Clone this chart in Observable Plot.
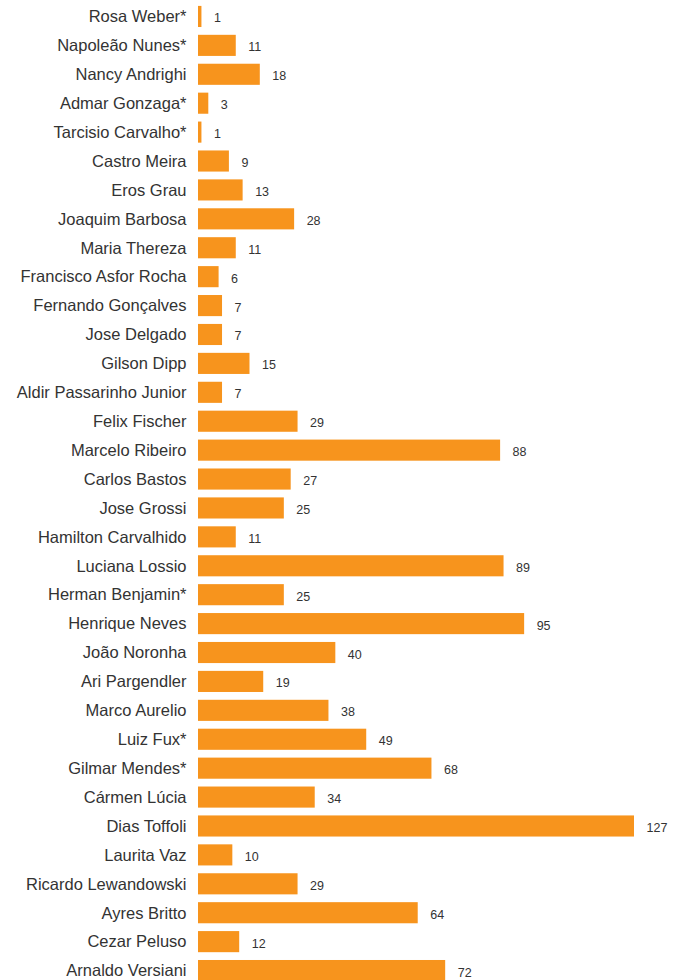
<!DOCTYPE html>
<html>
<head>
<meta charset="utf-8">
<script src="https://cdn.jsdelivr.net/npm/d3@7"></script>
<script src="https://cdn.jsdelivr.net/npm/@observablehq/plot@0.6"></script>
<style>
  html, body { margin: 0; padding: 0; background: #fff; }
</style>
</head>
<body>
<div id="chart"></div>
<script>
const names = [
  "Rosa Weber*", "Napoleão Nunes*", "Nancy Andrighi", "Admar Gonzaga*", "Tarcisio Carvalho*",
  "Castro Meira", "Eros Grau", "Joaquim Barbosa", "Maria Thereza", "Francisco Asfor Rocha",
  "Fernando Gonçalves", "Jose Delgado", "Gilson Dipp", "Aldir Passarinho Junior", "Felix Fischer",
  "Marcelo Ribeiro", "Carlos Bastos", "Jose Grossi", "Hamilton Carvalhido", "Luciana Lossio",
  "Herman Benjamin*", "Henrique Neves", "João Noronha", "Ari Pargendler", "Marco Aurelio",
  "Luiz Fux*", "Gilmar Mendes*", "Cármen Lúcia", "Dias Toffoli", "Laurita Vaz",
  "Ricardo Lewandowski", "Ayres Britto", "Cezar Peluso", "Arnaldo Versiani"
];
const values = [
  1, 11, 18, 3, 1,
  9, 13, 28, 11, 6,
  7, 7, 15, 7, 29,
  88, 27, 25, 11, 89,
  25, 95, 40, 19, 38,
  49, 68, 34, 127, 10,
  29, 64, 12, 72
];

const data = names.map((name, i) => ({name, value: values[i]}));

const chart = Plot.plot({
  width: 673,
  height: 985,
  marginLeft: 198,
  marginRight: 39,
  marginTop: 2,
  marginBottom: 0,
  style: {fontFamily: "'Liberation Sans', Arial, sans-serif", fontSize: "16px", color: "#333", background: "#fff"},
  x: {domain: [0, 127], axis: null},
  y: {domain: names, paddingInner: 0.27, paddingOuter: 0.135, label: null, axis: null},
  marks: [
    Plot.axisY({tickSize: 0, tickPadding: 12, fontSize: 16.5, fontFamily: "'Liberation Sans', Arial, sans-serif", fill: "#333", label: null}),
    Plot.barX(data, {x: "value", y: "name", fill: "#f7941d"}),
    Plot.text(data, {x: "value", y: "name", text: d => String(d.value), textAnchor: "start", dx: 12, dy: 1.5, fontSize: 12.5, fontFamily: "'Liberation Sans', Arial, sans-serif", fill: "#333"})
  ]
});
document.getElementById("chart").appendChild(chart);
</script>
</body>
</html>
